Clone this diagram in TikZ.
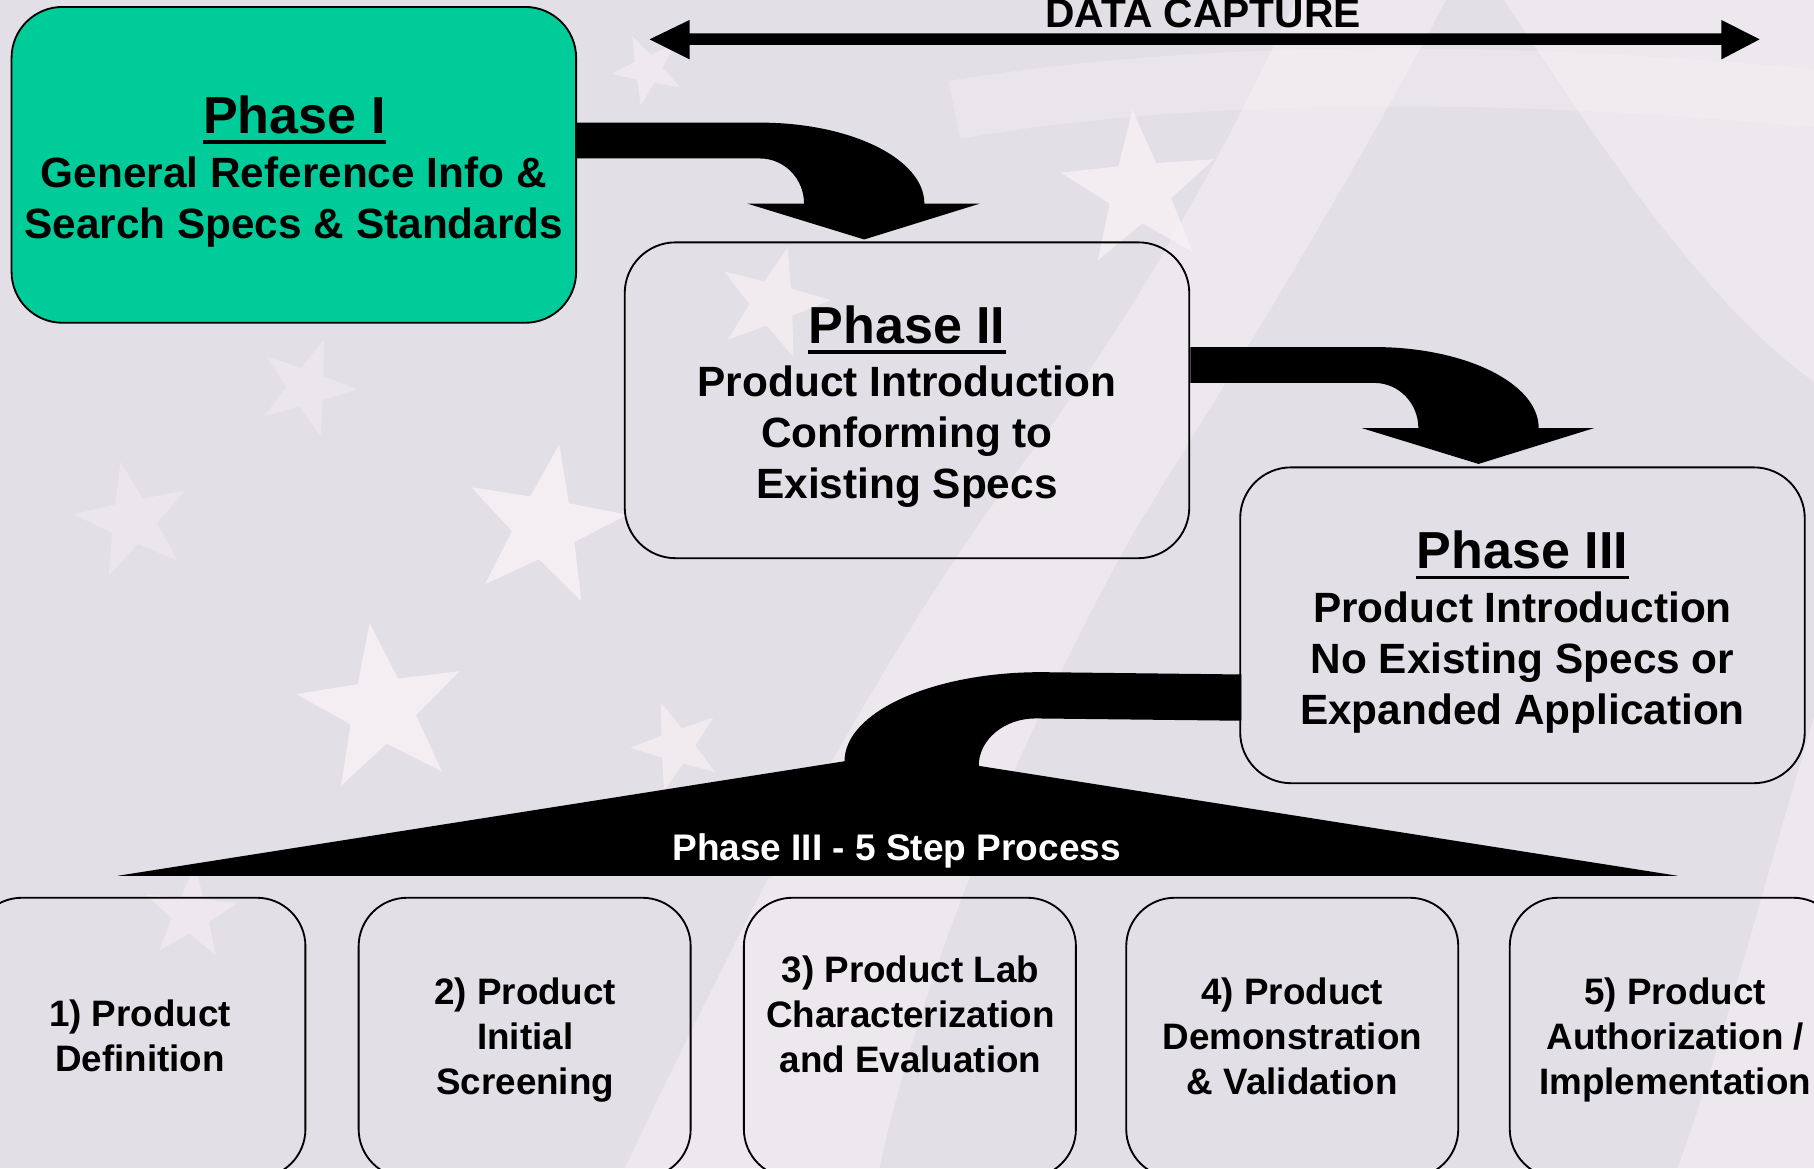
\documentclass[tikz,border=0pt]{standalone}
\usepackage{fontspec}
\setmainfont{Liberation Sans}
\usetikzlibrary{shapes.geometric}
\definecolor{bgbase}{RGB}{226,223,230}
\definecolor{bglight}{RGB}{248,241,245}
\definecolor{phaseone}{RGB}{0,204,153}
\tikzset{
  phasebox/.style={draw=black, line width=0.8pt, rounded corners=22pt, minimum width=244pt, minimum height=136.5pt, inner sep=0pt},
  stepbox/.style={draw=black, line width=0.8pt, rounded corners=21pt, minimum width=143.5pt, minimum height=121pt, inner sep=0pt},
  ttl/.style={anchor=base, inner sep=0pt, font=\bfseries\fontsize{22.5}{27}\selectfont},
  body/.style={anchor=base, inner sep=0pt, font=\bfseries\fontsize{18.3}{22}\selectfont},
  steptxt/.style={anchor=base, inner sep=0pt, font=\bfseries\fontsize{15.9}{19.5}\selectfont},
  uline/.style={line width=1.6pt},
  blk/.style={fill=black, draw=none},
  flagstar/.style={shape=star, star points=5, star point ratio=2.5, fill=bglight, draw=none, inner sep=0pt},
  swoosh/.style={fill=bglight, draw=none, opacity=0.5}
}
\begin{document}
\begin{tikzpicture}[x=0.5pt, y=-0.5pt]
\useasboundingbox (0,0) rectangle (1568,1010);
\clip (0,0) rectangle (1568,1010);
% background
\fill[bgbase] (0,0) rectangle (1568,1010);
\path[swoosh] (540,1010) .. controls (640,800) and (760,560) .. (900,380)
  .. controls (980,270) and (1050,150) .. (1120,0) -- (1250,0)
  .. controls (1160,170) and (1060,330) .. (980,460)
  .. controls (880,640) and (800,830) .. (760,1010) -- cycle;
\path[swoosh] (1568,0) -- (1300,0) .. controls (1380,120) and (1470,260) .. (1568,330) -- cycle;
\path[swoosh] (1568,620) .. controls (1520,780) and (1490,900) .. (1450,1010) -- (1568,1010) -- cycle;
\path[swoosh, opacity=0.35] (820,70) .. controls (1000,40) and (1250,30) .. (1568,60) -- (1568,110) .. controls (1250,80) and (1000,90) .. (830,120) -- cycle;
% stars
\node[flagstar, minimum size=75pt, rotate=8, opacity=0.85] (st1) at (330,613) {};
\node[flagstar, minimum size=72pt, rotate=-10, opacity=0.85] (st2) at (471,455) {};
\node[flagstar, minimum size=70pt, rotate=5, opacity=0.8] (st3) at (985,165) {};
\node[flagstar, minimum size=50pt, rotate=-15, opacity=0.7] (st4) at (668,262) {};
\node[flagstar, minimum size=52pt, rotate=12, opacity=0.4] (st5) at (115,450) {};
\node[flagstar, minimum size=44pt, rotate=-20, opacity=0.4] (st6) at (265,335) {};
\node[flagstar, minimum size=40pt, rotate=20, opacity=0.7] (st7) at (585,645) {};
\node[flagstar, minimum size=42pt, rotate=-5, opacity=0.55] (st8) at (165,790) {};
\node[flagstar, minimum size=32pt, rotate=25, opacity=0.6] (st9) at (560,60) {};
% phase boxes
\node[phasebox, fill=phaseone] (p1) at (254,142.5) {};
\node[phasebox] (p2) at (784,346) {};
\node[phasebox] (p3) at (1316,540.5) {};
% step boxes
\node[stepbox] (s1) at (120.5,897) {};
\node[stepbox] (s2) at (453.5,897) {};
\node[stepbox] (s3) at (786.5,897) {};
\node[stepbox] (s4) at (1117,897) {};
\node[stepbox] (s5) at (1448.5,897) {};
% data capture arrow
\path[blk] (561.5,34) -- (596,17.3) -- (596,28.8) -- (1488,28.8) -- (1488,17.3) -- (1521,34)
  -- (1488,51.3) -- (1488,38.9) -- (596,38.9) -- (596,51.3) -- cycle;
\node[anchor=base, inner sep=0pt, font=\bfseries\fontsize{17.6}{21}\selectfont] (dc) at (1040,23.5) {DATA CAPTURE};
% bent arrows
\newcommand{\bentarrowpath}{(498,106) -- (657,106) .. controls (735.4,106) and (799,137.3) .. (799,176)
  -- (847,176) -- (747,207) -- (646,176) -- (695,176)
  .. controls (695,154.5) and (678,137) .. (657,137) -- (498,137) -- cycle}
\path[blk] \bentarrowpath;
\begin{scope}[shift={(531,194)}]
\path[blk] \bentarrowpath;
\end{scope}
% phase III to steps
\path[blk] (1073,583) -- (900,581) .. controls (806,581) and (730,615.5) .. (730,658)
  -- (102,757) -- (1450,757) -- (846,662)
  .. controls (846,639.4) and (868,621) .. (895,621) -- (1073,623) -- cycle;
\node[anchor=base, inner sep=0pt, text=white, font=\bfseries\fontsize{16}{19.5}\selectfont] (tri) at (775,743.5) {Phase III - 5 Step Process};
% phase texts
\node[ttl] (p1t) at (254.5,115) {Phase I};
\draw[uline] ([yshift=-3.9pt]p1t.base west) -- ([yshift=-3.9pt]p1t.base east);
\node[body] (p1a) at (254,162) {General Reference Info \&};
\node[body] (p1b) at (254,206) {Search Specs \& Standards};
\node[ttl] (p2t) at (784,296.5) {Phase II};
\draw[uline] ([yshift=-3.9pt]p2t.base west) -- ([yshift=-3.9pt]p2t.base east);
\node[body] (p2a) at (784,343) {Product Introduction};
\node[body] (p2b) at (784,387) {Conforming to};
\node[body] (p2c) at (784,431) {Existing Specs};
\node[ttl] (p3t) at (1316,491.5) {Phase III};
\draw[uline] ([yshift=-3.9pt]p3t.base west) -- ([yshift=-3.9pt]p3t.base east);
\node[body] (p3a) at (1316,538) {Product Introduction};
\node[body] (p3b) at (1316,582) {No Existing Specs or};
\node[body] (p3c) at (1316,626) {Expanded Application};
% step texts
\node[steptxt] (s1a) at (121,887) {1) Product};
\node[steptxt] (s1b) at (121,926) {Definition};
\node[steptxt] (s2a) at (454,868) {2) Product};
\node[steptxt] (s2b) at (454,907) {Initial};
\node[steptxt] (s2c) at (454,946) {Screening};
\node[steptxt] (s3a) at (787,849) {3) Product Lab};
\node[steptxt] (s3b) at (787,888) {Characterization};
\node[steptxt] (s3c) at (787,927) {and Evaluation};
\node[steptxt] (s4a) at (1117,868) {4) Product};
\node[steptxt] (s4b) at (1117,907) {Demonstration};
\node[steptxt] (s4c) at (1117,946) {\& Validation};
\node[steptxt] (s5a) at (1448,868) {5) Product};
\node[steptxt] (s5b) at (1448,907) {Authorization /};
\node[steptxt] (s5c) at (1448,946) {Implementation};
\end{tikzpicture}
\end{document}
